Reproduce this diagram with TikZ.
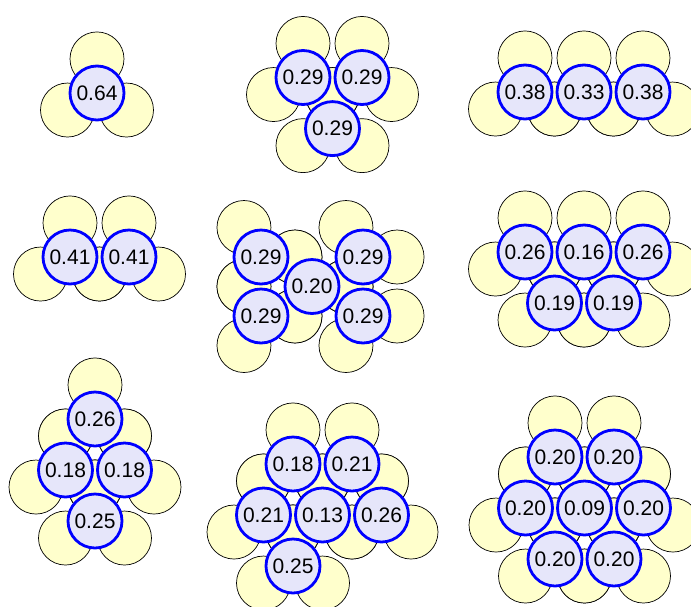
\documentclass[tikz,border=0pt]{standalone}
\usepackage{fontspec}
\setmainfont{Liberation Sans}
\definecolor{sulf}{RGB}{255,255,204}
\definecolor{lav}{RGB}{230,230,250}
\begin{document}
\begin{tikzpicture}[x=1pt,y=-1pt,
  yatom/.style={circle,draw=black,line width=0.7pt,fill=sulf,minimum size=54pt,inner sep=0pt},
  batom/.style={circle,draw=blue,line width=2.8pt,fill=lav,minimum size=54pt,inner sep=0pt,font=\fontsize{21}{25}\selectfont}]
\useasboundingbox (0,0) rectangle (691,606);
\clip (0,0) rectangle (691,606);
% standard orientation clusters: yellow neighbours
\foreach \x/\y/\v [count=\n] in {
  97/93/0.64,
  303/77.5/0.29, 362/77.5/0.29, 332.5/128.6/0.29,
  525/92/0.38, 584/92/0.33, 643/92/0.38,
  70/257/0.41, 129/257/0.41,
  525/252/0.26, 584/252/0.16, 643/252/0.26, 554.5/303/0.19, 613.5/303/0.19,
  95/419/0.26, 65.5/470/0.18, 124.5/470/0.18, 95/521/0.25,
  293/464/0.18, 352/464/0.21, 263.5/515/0.21, 322.5/515/0.13, 381.5/515/0.26, 293/566/0.25,
  555/457/0.20, 614/457/0.20, 525.5/508/0.20, 584.5/508/0.09, 643.5/508/0.20, 555/559/0.20, 614/559/0.20}
{
  \node[yatom] (ya\n) at (\x,\y-34.06) {};
  \node[yatom] (yb\n) at (\x-29.5,\y+17.03) {};
  \node[yatom] (yc\n) at (\x+29.5,\y+17.03) {};
}
% rotated cluster: yellow neighbours
\foreach \x/\y/\v [count=\n] in {261/257/0.29, 261/316/0.29, 312/286.5/0.20, 363/257/0.29, 363/316/0.29}
{
  \node[yatom] (ra\n) at (\x+34.06,\y) {};
  \node[yatom] (rb\n) at (\x-17.03,\y-29.5) {};
  \node[yatom] (rc\n) at (\x-17.03,\y+29.5) {};
}
% blue atoms
\foreach \x/\y/\v [count=\n] in {
  97/93/0.64,
  303/77.5/0.29, 362/77.5/0.29, 332.5/128.6/0.29,
  525/92/0.38, 584/92/0.33, 643/92/0.38,
  70/257/0.41, 129/257/0.41,
  525/252/0.26, 584/252/0.16, 643/252/0.26, 554.5/303/0.19, 613.5/303/0.19,
  95/419/0.26, 65.5/470/0.18, 124.5/470/0.18, 95/521/0.25,
  293/464/0.18, 352/464/0.21, 263.5/515/0.21, 322.5/515/0.13, 381.5/515/0.26, 293/566/0.25,
  555/457/0.20, 614/457/0.20, 525.5/508/0.20, 584.5/508/0.09, 643.5/508/0.20, 555/559/0.20, 614/559/0.20,
  261/257/0.29, 261/316/0.29, 312/286.5/0.20, 363/257/0.29, 363/316/0.29}
{
  \node[batom] (b\n) at (\x,\y) {\v};
}
\end{tikzpicture}
\end{document}
